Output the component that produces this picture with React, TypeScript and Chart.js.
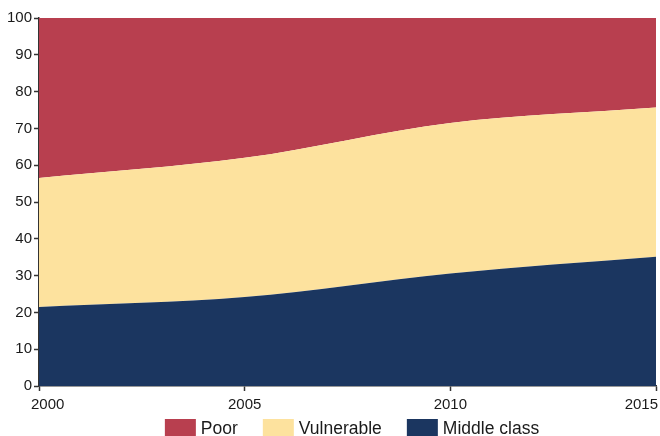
import React, { useEffect, useRef } from "react";
import { Chart, registerables } from "chart.js";

Chart.register(...registerables);

const years = [2000, 2005, 2010, 2015];
const xTickLabels = ["2000", "2005", "2010", "2015"];
const middleClass = [21.5, 24.2, 30.6, 35.1];
const vulnerable = [35.0, 37.8, 40.9, 40.6];
const poor = [43.5, 38.0, 28.5, 24.3];

const FONT = "'Liberation Sans', Arial, sans-serif";

const xLabelPlugin = {
  id: "xLabels",
  afterDraw(chart: any) {
    const { ctx, scales, chartArea } = chart;
    const xs = scales.x;
    ctx.save();
    ctx.font = `15px ${FONT}`;
    ctx.fillStyle = "#1a1a1a";
    ctx.textBaseline = "middle";
    ctx.textAlign = "left";
    years.forEach((yr, i) => {
      const label = xTickLabels[i];
      const w = ctx.measureText(label).width;
      let left = xs.getPixelForValue(yr) - w / 2;
      if (left < 31) left = 31;
      if (left + w > 658) left = 658 - w;
      ctx.fillText(label, left, chartArea.bottom + 19);
    });
    ctx.restore();
  },
};

const legendPlugin = {
  id: "customLegend",
  afterDraw(chart: any) {
    const { ctx } = chart;
    const items = chart.data.datasets.slice().reverse();
    ctx.save();
    ctx.font = `17.5px ${FONT}`;
    ctx.textBaseline = "middle";
    ctx.textAlign = "left";
    const boxW = 31;
    const boxH = 16;
    const gapText = 5;
    const gapItem = 25;
    const widths = items.map((d: any) => boxW + gapText + ctx.measureText(d.label).width);
    const total = widths.reduce((a: number, b: number) => a + b, 0) + gapItem * (items.length - 1);
    let x = 352 - total / 2;
    const yTop = 419;
    items.forEach((d: any, i: number) => {
      ctx.fillStyle = d.backgroundColor;
      ctx.fillRect(x, yTop, boxW, boxH + 1);
      ctx.fillStyle = "#1a1a1a";
      ctx.fillText(d.label, x + boxW + gapText, yTop + 10);
      x += widths[i] + gapItem;
    });
    ctx.restore();
  },
};

export default function App() {
  const ref = useRef<HTMLCanvasElement | null>(null);
  useEffect(() => {
    if (!ref.current) return;
    const chart = new Chart(ref.current, {
      type: "line",
      data: {
        labels: years,
        datasets: [
          {
            label: "Middle class",
            data: middleClass,
            backgroundColor: "#1b3660",
            borderColor: "#1b3660",
            fill: "origin",
          },
          {
            label: "Vulnerable",
            data: vulnerable,
            backgroundColor: "#fde29e",
            borderColor: "#fde29e",
            fill: "-1",
          },
          {
            label: "Poor",
            data: poor,
            backgroundColor: "#b83f4f",
            borderColor: "#b83f4f",
            fill: "-1",
          },
        ],
      },
      options: {
        animation: false,
        responsive: false,
        maintainAspectRatio: false,
        elements: {
          point: { radius: 0 },
          line: { borderWidth: 0, cubicInterpolationMode: "monotone" },
        },
        layout: { padding: { top: 18, right: 4, left: 0, bottom: 0 } },
        plugins: {
          tooltip: { enabled: false },
          legend: { display: false },
        },
        scales: {
          x: {
            type: "linear",
            min: 2000,
            max: 2015,
            border: { color: "#333", width: 1.5 },
            grid: { drawOnChartArea: false, tickLength: 5, color: "#333", tickWidth: 1.5 },
            ticks: { stepSize: 5, display: false },
            afterFit(scale: any) {
              scale.height = 50;
            },
          },
          y: {
            stacked: true,
            min: 0,
            max: 100,
            border: { color: "#333", width: 1.5 },
            grid: { drawOnChartArea: false, tickLength: 5, color: "#333", tickWidth: 1.5 },
            ticks: {
              stepSize: 10,
              padding: 2,
              color: "#1a1a1a",
              font: { family: FONT, size: 15 },
            },
            afterFit(scale: any) {
              scale.width = 39;
            },
          },
        },
      },
      plugins: [xLabelPlugin, legendPlugin],
    });
    return () => chart.destroy();
  }, []);
  return (
    <div style={{ position: "fixed", left: 0, top: 0, width: 660, height: 436, background: "#fff" }}>
      <canvas ref={ref} width={660} height={436} style={{ width: 660, height: 436 }} />
    </div>
  );
}
